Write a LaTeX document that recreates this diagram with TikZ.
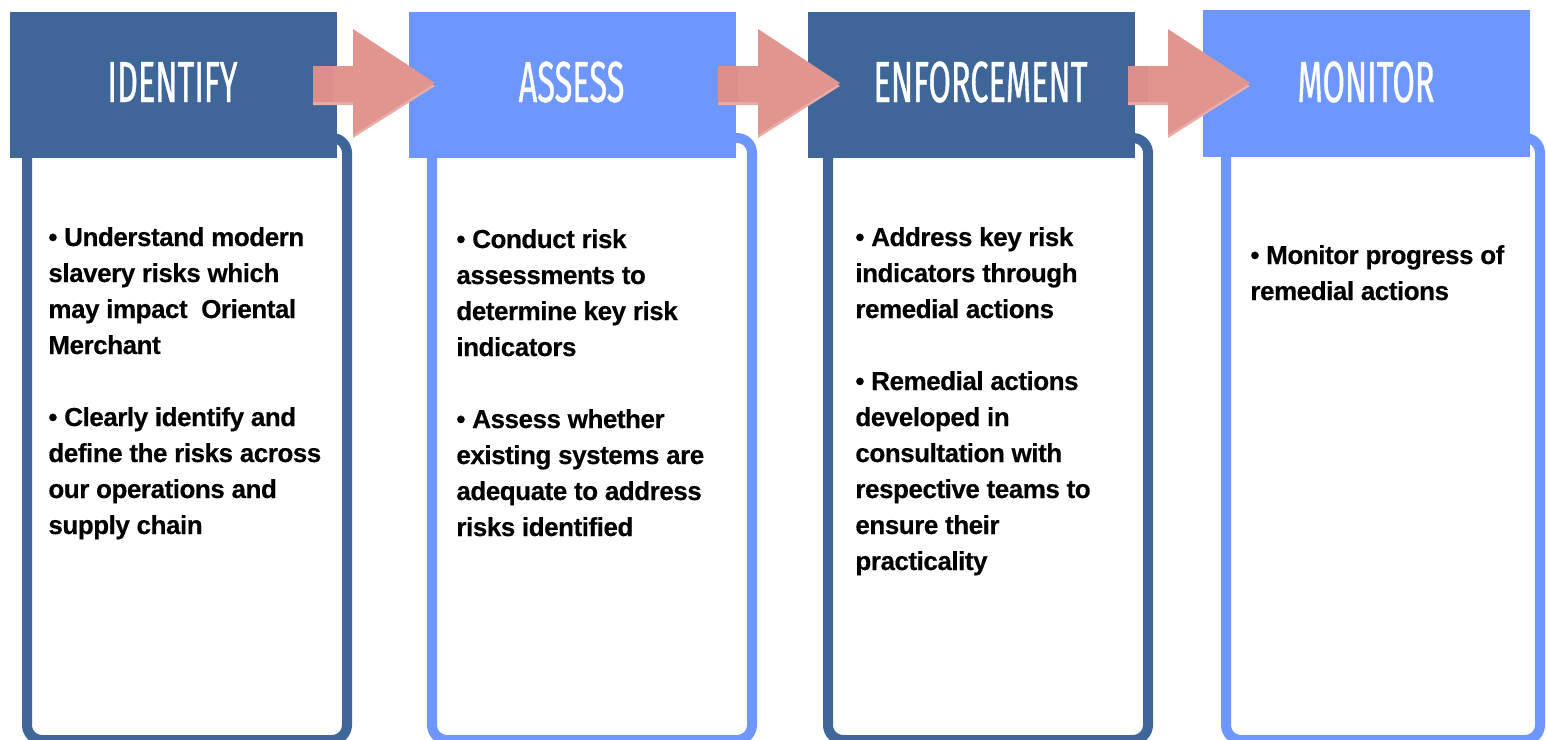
\documentclass[tikz,border=0pt]{standalone}
\usepackage{fontspec}
\setmainfont{Liberation Sans}
\newfontfamily\hdrfont[FakeStretch=0.56,FakeBold=0.6]{Fira Sans}
\newfontfamily\bodyfont[LetterSpace=-1.8,FakeBold=0.4]{Liberation Sans Bold}
\definecolor{dkblue}{HTML}{3F6699}
\definecolor{ltblue}{HTML}{6E96FF}
\definecolor{arrowpink}{HTML}{E0968F}
\definecolor{arrowedge}{HTML}{EBACA7}
\definecolor{arrowdark}{HTML}{D68A86}
\tikzset{
  panel/.style={draw, line width=5pt, rounded corners=7.5pt, fill=white, minimum height=301pt, inner sep=0pt},
  header/.style={rectangle, draw=none, minimum width=163.5pt, minimum height=73pt, inner sep=0pt},
  hdrtext/.style={text=white, font=\hdrfont\fontsize{29pt}{29pt}\selectfont, inner sep=0pt, anchor=base},
  bodytext/.style={text=black, font=\bodyfont\fontsize{13pt}{18pt}\selectfont, align=left, inner sep=0pt, anchor=base west},
  blockarrow/.pic={
    \fill[arrowedge] (0,69) -- (40,69) -- (40,32) -- (122,86) -- (40,138) -- (40,105) -- (0,105) -- cycle;
    \fill[arrowpink] (0,66) -- (40,66) -- (40,29) -- (122,83) -- (40,135) -- (40,102) -- (0,102) -- cycle;
    \fill[arrowdark, opacity=0.5] (0,66) -- (20,66) -- (20,102) -- (0,102) -- cycle;
  }
}
\begin{document}
\begin{tikzpicture}[x=0.5pt, y=-0.5pt]
\useasboundingbox (0,0) rectangle (1546,739);

% body panels
\node[panel, draw=dkblue, minimum width=160pt] (b1) at (187,439) {};
\node[panel, draw=ltblue, minimum width=160pt] (b2) at (592,439) {};
\node[panel, draw=dkblue, minimum width=160pt] (b3) at (988,439) {};
\node[panel, draw=ltblue, minimum width=157pt] (b4) at (1383,439) {};

% headers
\node[header, fill=dkblue] (h1) at (173.5,85) {};
\node[header, fill=ltblue] (h2) at (572.5,85) {};
\node[header, fill=dkblue] (h3) at (971.5,85) {};
\node[header, fill=ltblue, minimum height=73.5pt] (h4) at (1366.5,83.5) {};

\node[hdrtext] (t1) at (172.5,102) {IDENTIFY};
\node[hdrtext] (t2) at (571.5,102) {ASSESS};
\node[hdrtext] (t3) at (980.5,102) {ENFORCEMENT};
\node[hdrtext] (t4) at (1366,102) {MONITOR};

% arrows
\pic at (313,0) {blockarrow};
\pic at (718,0) {blockarrow};
\pic at (1128,0) {blockarrow};

% body text (anchored at the baseline of the last line)
\node[bodytext] (p1) at (48,534) {%
\textbullet{} Understand modern\\slavery risks which\\may impact\ \ Oriental\\Merchant\\[18pt]%
\textbullet{} Clearly identify and\\define the risks across\\our operations and\\supply chain};
\node[bodytext] (p2) at (456,536) {%
\textbullet{} Conduct risk\\assessments to\\determine key risk\\indicators\\[18pt]%
\textbullet{} Assess whether\\existing systems are\\adequate to address\\risks identified};
\node[bodytext] (p3) at (855,570) {%
\textbullet{} Address key risk\\indicators through\\remedial actions\\[18pt]%
\textbullet{} Remedial actions\\developed in\\consultation with\\respective teams to\\ensure their\\practicality};
\node[bodytext] (p4) at (1250,300) {%
\textbullet{} Monitor progress of\\remedial actions};
\end{tikzpicture}
\end{document}
